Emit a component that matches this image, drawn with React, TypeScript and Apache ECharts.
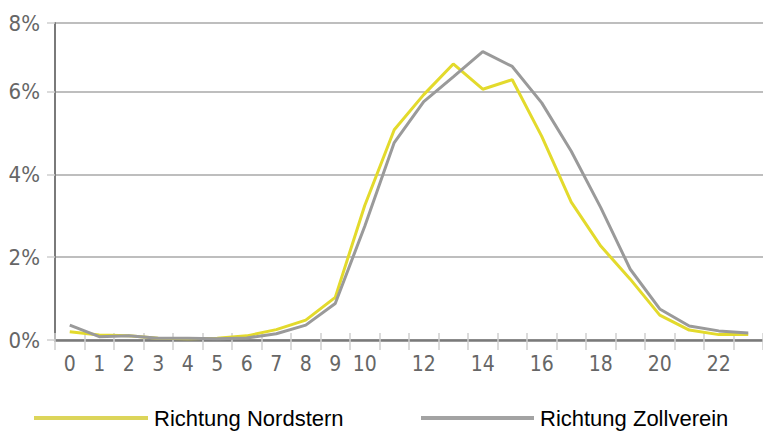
import React, { useEffect, useRef } from "react";
import * as echarts from "echarts";

const hours = ["0","1","2","3","4","5","6","7","8","9","10","11","12","13","14","15","16","17","18","19","20","21","22","23"];
const nordstern = [0.2, 0.12, 0.1, 0.04, 0.03, 0.04, 0.1, 0.25, 0.48, 1.03, 3.25, 5.08, 5.93, 6.67, 6.06, 6.29, 4.92, 3.33, 2.27, 1.47, 0.6, 0.24, 0.13, 0.13];
const zollverein = [0.36, 0.08, 0.1, 0.04, 0.04, 0.03, 0.05, 0.15, 0.36, 0.88, 2.75, 4.77, 5.76, 6.36, 6.97, 6.61, 5.73, 4.56, 3.2, 1.71, 0.75, 0.34, 0.22, 0.17];
const seriesNames = ["Richtung Nordstern", "Richtung Zollverein"];
const yTickLabels = ["0%", "2%", "4%", "6%", "8%"];

const narrow = "'Liberation Sans Narrow', 'DejaVu Sans Condensed', sans-serif";

export default function App() {
  const ref = useRef<HTMLDivElement>(null);
  useEffect(() => {
    if (!ref.current) return;
    const chart = echarts.init(ref.current, null, { renderer: "svg" });
    const legendText = {
      fontFamily: "'Liberation Sans', Arial, sans-serif",
      fontSize: 22,
      color: "#000000",
      padding: [0, 0, 0, 1],
    };
    chart.setOption({
      animation: false,
      backgroundColor: "#ffffff",
      grid: { left: 55, top: 23, right: -7, bottom: 92, containLabel: false },
      legend: [
        {
          left: 29,
          top: 402,
          icon: "rect",
          itemWidth: 114,
          itemHeight: 4,
          textStyle: legendText,
          data: [{ name: seriesNames[0], itemStyle: { color: "#dcd55a" } }],
        },
        {
          left: 416,
          top: 402,
          icon: "rect",
          itemWidth: 113,
          itemHeight: 4,
          textStyle: legendText,
          data: [{ name: seriesNames[1], itemStyle: { color: "#a3a3a3" } }],
        },
      ],
      xAxis: [
        {
          type: "category",
          data: hours,
          boundaryGap: true,
          axisLine: { lineStyle: { color: "#7a7a7a", width: 2.5 } },
          axisTick: { show: true, interval: 0, length: 10, lineStyle: { color: "#cfcfcf", width: 1.5 } },
          axisLabel: {
            interval: (i: number) => i <= 10 || i % 2 === 0,
            fontFamily: narrow,
            fontSize: 21,
            color: "#666666",
            margin: 13,
          },
          splitLine: { show: false },
        },
        {
          type: "category",
          data: hours,
          position: "bottom",
          boundaryGap: true,
          axisLine: { show: false },
          axisTick: { show: true, inside: true, interval: 0, length: 7, lineStyle: { color: "#cfcfcf", width: 1.5 } },
          axisLabel: { show: false },
          splitLine: { show: false },
        },
      ],
      yAxis: {
        type: "value",
        min: 0,
        max: 7.66,
        interval: 2,
        axisLine: { show: true, lineStyle: { color: "#7a7a7a", width: 2 } },
        axisTick: { show: true, length: 8, lineStyle: { color: "#cfcfcf", width: 1.5 } },
        axisLabel: {
          formatter: (v: number) => (v > 7 ? yTickLabels[4] : yTickLabels[Math.round(v / 2)]),
          fontFamily: narrow,
          fontSize: 22,
          color: "#666666",
          margin: 15,
        },
        splitLine: { show: true, lineStyle: { color: "#a8a8a8", width: 1.5 } },
      },
      series: [
        {
          name: seriesNames[0],
          type: "line",
          data: nordstern,
          symbol: "none",
          lineStyle: { color: "#e3da2c", width: 3 },
          itemStyle: { color: "#e3da2c" },
        },
        {
          name: seriesNames[1],
          type: "line",
          data: zollverein,
          symbol: "none",
          lineStyle: { color: "#9a9a9a", width: 3 },
          itemStyle: { color: "#9a9a9a" },
        },
      ],
    });
    return () => chart.dispose();
  }, []);
  return (
    <div
      ref={ref}
      style={{ position: "fixed", left: 0, top: 0, width: 763, height: 432, background: "#fff" }}
    />
  );
}
